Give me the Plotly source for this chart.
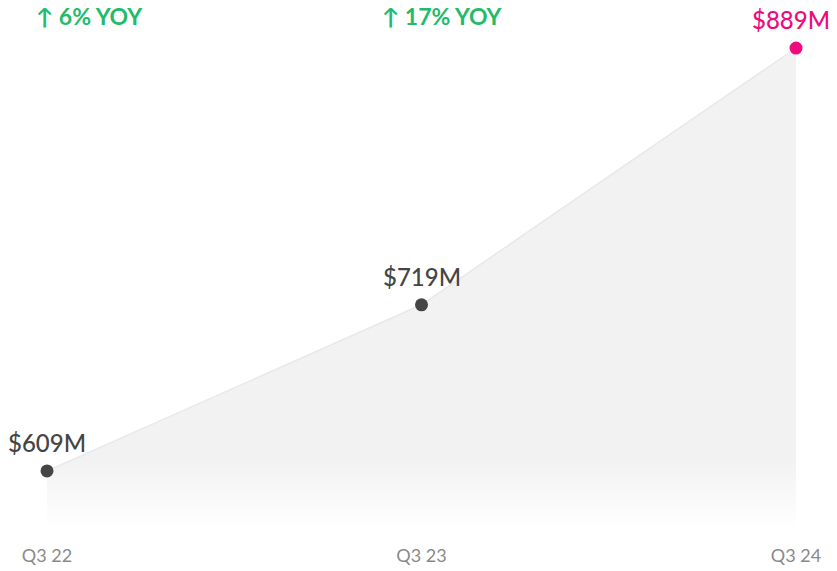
import plotly.graph_objects as go

quarters = ["Q3 22", "Q3 23", "Q3 24"]
revenue = [609, 719, 889]
revenue_labels = ["$609M", "$719M", "$889M"]
growth_labels = ["↑ 6% YOY", "↑ 17% YOY"]

DARK = "#454545"
PINK = "#ee0a7f"
GREEN = "#22bb6a"
FONT = "Lato, 'Open Sans', sans-serif"

x = list(range(len(quarters)))
point_colors = [DARK] * (len(revenue) - 1) + [PINK]

fig = go.Figure()

# shaded area under the line, fading to white at the bottom
fig.add_trace(go.Scatter(
    x=x, y=revenue, mode="lines", fill="tozeroy",
    line=dict(color="#e9e9e9", width=1.5),
    fillgradient=dict(type="vertical", start=570, stop=616,
                      colorscale=[[0, "#ffffff"], [1, "#f2f2f2"]]),
    hoverinfo="skip", showlegend=False,
))

fig.add_trace(go.Scatter(
    x=x, y=revenue, mode="markers",
    marker=dict(size=13, color=point_colors),
    showlegend=False,
))

for xi, val, lab, col, dx in zip(x, revenue, revenue_labels, point_colors, [0, 0, -5]):
    fig.add_annotation(x=xi, y=val, text=lab, showarrow=False,
                       yanchor="bottom", yshift=12, xshift=dx,
                       font=dict(family=FONT, size=24, color=col, weight=500))

for xi, lab, dx in zip(x, growth_labels, [43, 21]):
    fig.add_annotation(x=xi, y=1, yref="paper", text=f"<b>{lab}</b>",
                       showarrow=False, xanchor="center", yanchor="middle",
                       xshift=dx, yshift=-8,
                       font=dict(family=FONT, size=23, color=GREEN))

fig.update_layout(
    width=837, height=571,
    margin=dict(l=0, r=0, t=0, b=36),
    plot_bgcolor="white", paper_bgcolor="white",
    xaxis=dict(range=[-0.1041, 2.1308], tickvals=x, ticktext=quarters,
               showgrid=False, zeroline=False, showline=False,
               tickfont=dict(family=FONT, size=18, color="#8a8a8a")),
    yaxis=dict(range=[561.3, 915.5], visible=False),
)

fig.write_html("out.html")
